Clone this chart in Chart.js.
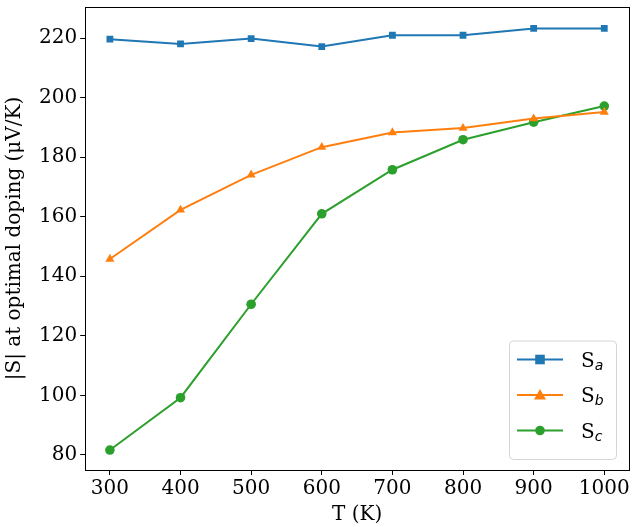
<!DOCTYPE html>
<html>
<head>
<meta charset="utf-8">
<script src="https://cdn.jsdelivr.net/npm/chart.js@4"></script>
<style>
  html, body { margin: 0; padding: 0; background: #fff; }
  #wrap { width: 636px; height: 527px; position: relative; }
</style>
</head>
<body>
<div id="wrap"><canvas id="seebeckChart" width="636" height="527"></canvas></div>
<script>
// temperatures (K)
const temps = [300, 400, 500, 600, 700, 800, 900, 1000];
// |S| at optimal doping (μV/K)
const sA = [219.7, 218.1, 219.9, 217.2, 221.0, 221.0, 223.3, 223.3];
const sB = [145.8, 162.3, 174.1, 183.4, 188.3, 189.8, 193.0, 195.2];
const sC = [81.6, 99.2, 130.6, 161.0, 175.8, 185.9, 191.8, 197.2];
const seriesNames = ['a', 'b', 'c'];
const xTicks = [300, 400, 500, 600, 700, 800, 900, 1000];
const yTicks = [80, 100, 120, 140, 160, 180, 200, 220];

const FONT = 'DejaVu Serif';

function toPoints(ys) {
    return temps.map((t, i) => ({ x: t, y: ys[i] }));
}

// frame round the plot area (matplotlib style box)
const framePlugin = {
    id: 'frame',
    afterDraw(chart) {
        const { ctx, chartArea: a } = chart;
        ctx.save();
        ctx.strokeStyle = '#000';
        ctx.lineWidth = 1;
        ctx.strokeRect(Math.round(a.left) + 0.5, Math.round(a.top) + 0.5,
            Math.round(a.right - a.left), Math.round(a.bottom - a.top));
        ctx.restore();
    }
};

// legend in the lower right corner, inside the axes
const legendPlugin = {
    id: 'innerLegend',
    afterDraw(chart) {
        const { ctx, chartArea: a } = chart;
        const sets = chart.data.datasets;
        const boxW = 107, rowH = 35.5;
        const boxH = 12 + rowH * sets.length;
        const x0 = a.right - 13 - boxW;
        const y0 = a.bottom - 11 - boxH;
        ctx.save();
        ctx.fillStyle = 'rgba(255,255,255,0.8)';
        ctx.strokeStyle = '#d5d5d5';
        ctx.lineWidth = 1;
        ctx.beginPath();
        ctx.roundRect(x0 + 0.5, y0 + 0.5, boxW, boxH, 4);
        ctx.fill();
        ctx.stroke();
        sets.forEach((ds, i) => {
            const cy = y0 + 19 + i * rowH;
            ctx.strokeStyle = ds.borderColor;
            ctx.lineWidth = 2;
            ctx.beginPath();
            ctx.moveTo(x0 + 8, cy);
            ctx.lineTo(x0 + 54, cy);
            ctx.stroke();
            ctx.fillStyle = ds.backgroundColor;
            ctx.beginPath();
            if (ds.pointStyle === 'rect') {
                const r = ds.pointRadius;
                ctx.rect(x0 + 31 - r, cy - r, 2 * r, 2 * r);
            } else if (ds.pointStyle === 'triangle') {
                const r = ds.pointRadius * 1.15;
                ctx.moveTo(x0 + 31, cy - r);
                ctx.lineTo(x0 + 31 + r, cy + r * 0.75);
                ctx.lineTo(x0 + 31 - r, cy + r * 0.75);
                ctx.closePath();
            } else {
                ctx.arc(x0 + 31, cy, ds.pointRadius, 0, Math.PI * 2);
            }
            ctx.fill();
            ctx.fillStyle = '#000';
            ctx.textBaseline = 'alphabetic';
            ctx.font = '20px ' + FONT;
            ctx.fillText('S', x0 + 72, cy + 7);
            const sw = ctx.measureText('S').width;
            ctx.font = 'italic 14px "DejaVu Sans"';
            ctx.fillText(seriesNames[i], x0 + 72 + sw, cy + 10);
        });
        ctx.restore();
    }
};

const tickFont = { family: FONT, size: 20 };

new Chart(document.getElementById('seebeckChart').getContext('2d'), {
    type: 'line',
    data: {
        datasets: [
            { label: 'S_a', data: toPoints(sA), borderColor: '#1f77b4', backgroundColor: '#1f77b4',
              pointStyle: 'rect', pointRadius: 4.8, borderWidth: 2, pointBorderWidth: 0 },
            { label: 'S_b', data: toPoints(sB), borderColor: '#ff7f0e', backgroundColor: '#ff7f0e',
              pointStyle: 'triangle', pointRadius: 5.2, borderWidth: 2, pointBorderWidth: 0 },
            { label: 'S_c', data: toPoints(sC), borderColor: '#2ca02c', backgroundColor: '#2ca02c',
              pointStyle: 'circle', pointRadius: 4.8, borderWidth: 2, pointBorderWidth: 0 }
        ]
    },
    options: {
        responsive: false,
        animation: false,
        events: [],
        layout: { padding: { top: 7, right: 7, left: 3, bottom: 0 } },
        plugins: {
            legend: { display: false },
            tooltip: { enabled: false }
        },
        elements: { line: { tension: 0 } },
        scales: {
            x: {
                type: 'linear',
                min: 265,
                max: 1035,
                afterBuildTicks: axis => { axis.ticks = xTicks.map(v => ({ value: v })); },
                grid: { drawOnChartArea: false, drawTicks: true, tickLength: 5, color: '#000' },
                border: { display: true, color: '#000' },
                ticks: { color: '#000', font: tickFont, padding: 2, maxRotation: 0, callback: v => String(v) },
                title: { display: true, text: 'T (K)', color: '#000', font: tickFont, padding: { top: 0, bottom: 0 } }
            },
            y: {
                min: 74.9,
                max: 230.5,
                afterBuildTicks: axis => { axis.ticks = yTicks.map(v => ({ value: v })); },
                afterFit: axis => { axis.paddingTop = 0; axis.paddingBottom = 0; },
                grid: { drawOnChartArea: false, drawTicks: true, tickLength: 5, color: '#000' },
                border: { display: true, color: '#000' },
                ticks: { color: '#000', font: tickFont, padding: 3, callback: v => String(v) },
                title: { display: true, text: '|S| at optimal doping (μV/K)', color: '#000', font: tickFont, padding: { top: 0, bottom: 9 } }
            }
        }
    },
    plugins: [framePlugin, legendPlugin]
});
</script>
</body>
</html>
